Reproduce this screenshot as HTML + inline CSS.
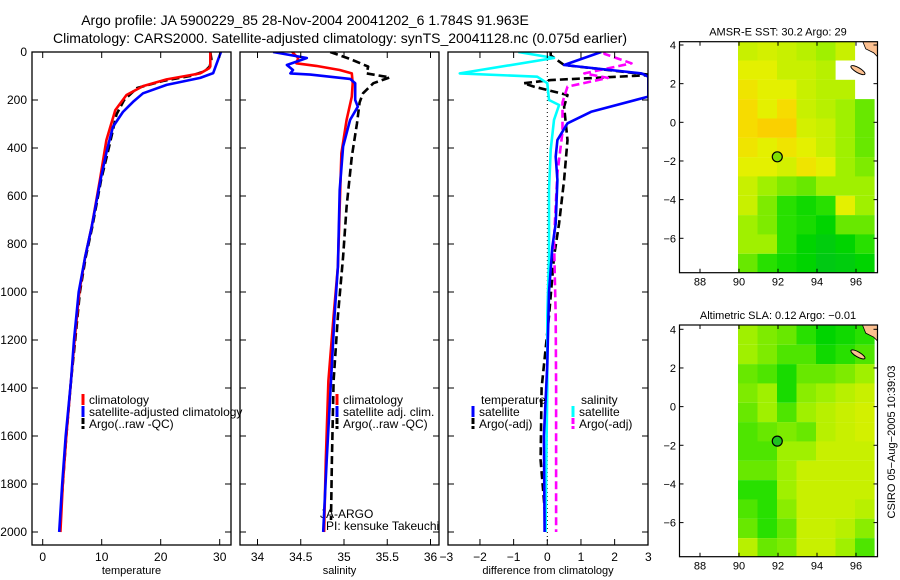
<!DOCTYPE html>
<html><head><meta charset="utf-8"><style>
body{margin:0;background:#fff;}
svg{display:block;font-family:"Liberation Sans",sans-serif;}
</style></head><body>
<svg id="c" width="900" height="580" xmlns="http://www.w3.org/2000/svg">
<text x="305" y="25" font-size="14" text-anchor="middle">Argo profile: JA 5900229_85 28-Nov-2004 20041202_6 1.784S 91.963E</text>
<text x="340" y="43" font-size="14" text-anchor="middle">Climatology: CARS2000. Satellite-adjusted climatology: synTS_20041128.nc (0.075d earlier)</text>
<g id="layer"></g>
</svg>
<script>
// ---------- data ----------
const depthTick=[0,200,400,600,800,1000,1200,1400,1600,1800,2000];
const tempTicks=[0,10,20,30];
const salTicks=[34,34.5,35,35.5,36];
const diffTicks=[-3,-2,-1,0,1,2,3];
// temperature
const tClimDepth=[0,60,68,89,114,142,179,242,367,533,728,853,1000,1200,1370,1600,1800,2000];
const tClimVal=[28.4,28.4,28.2,26.7,21,17,14.2,12.3,10.8,9.7,8.3,7.2,6.2,5.4,4.8,4.0,3.4,3.0];
const tSatDepth=[0,88,108,137,172,208,250,312,408,533,728,853,1000,1200,1370,1600,1800,2000];
const tSatVal=[30.2,28.9,26.7,21,17,15.3,13.6,11.9,10.9,9.8,8.3,7.2,6.1,5.3,4.8,3.9,3.3,2.8];
const tArgoDepth=[0,30,60,80,100,120,150,200,260,400,533,728,853,1000,1200,1370,1600,1800,1950];
const tArgoVal=[28.4,28.6,28.3,27.5,25,20.5,16,13.8,12.5,11.2,9.9,8.4,7.3,6.3,5.5,4.8,4.0,3.4,3.0];
// salinity
const sClimDepth=[0,25,47,58,75,89,130,186,283,422,644,894,1100,1370,1700,2000];
const sClimVal=[34.40,34.47,34.45,34.68,34.95,35.09,35.10,35.09,35.03,34.97,34.95,34.93,34.88,34.82,34.79,34.77];
const sSatDepth=[0,25,54,75,89,94,112,130,200,228,283,394,575,894,1100,1370,1700,2000];
const sSatVal=[34.18,34.57,34.34,34.41,34.38,34.61,35.07,35.13,35.13,35.16,35.07,34.99,34.95,34.93,34.89,34.85,34.80,34.76];
const sArgoDepth=[0,29,61,89,106,130,172,210,297,436,644,853,1100,1370,1700,1950];
const sArgoVal=[34.84,35.07,35.28,35.26,35.53,35.34,35.22,35.18,35.15,35.09,35.03,34.99,34.93,34.88,34.86,34.85];
// differences
const dTSatDepth=[0,54,89,103,186,249,297,367,436,533,714,811,1000,1300,1600,2000];
const dTSatVal=[1.6,0.5,2.8,3.0,3.0,1.3,0.6,0.3,0.25,0.3,0.25,0.15,0.05,0.0,-0.1,-0.08];
const dTArgoDepth=[0,14,54,96,117,130,144,179,228,367,533,714,853,1100,1400,1700,1950];
const dTArgoVal=[0.1,0.1,0.5,3.1,0.1,-0.7,-0.4,0.6,0.5,0.6,0.5,0.35,0.2,0.05,-0.17,-0.2,-0.05];
const dSSatDepth=[0,25,89,103,130,200,221,283,408,575,853,1100,1400,1700,2000];
const dSSatVal=[-0.86,0.2,-2.6,-0.3,0.0,0.05,0.35,0.2,0.1,0.05,0.05,0.0,0.0,-0.03,-0.05];
const dSArgoDepth=[0,8,47,89,108,144,210,333,505,783,1100,1400,1700,2000];
const dSArgoVal=[1.7,1.7,2.5,1.1,1.8,0.6,0.45,0.45,0.3,0.2,0.25,0.26,0.26,0.26];
// maps (levels 0=dark green .. 4.5=orange, -1 = no data)
const latTicks=[4,2,0,-2,-4,-6];
const lonTicks=[88,90,92,94,96];
const sstGrid=[
[3,3.2,3,2.8,2.5,3,-1],
[3.5,3.5,3,3,2.8,-1,-1],
[3.8,3.5,3.5,3,2.8,2.8,-1],
[4,3.5,4,3,2.8,2.5,2],
[4,4.2,4.2,3.2,3,2.5,2],
[3.8,3.5,3.8,3.5,3,2.5,2],
[3.5,3.5,3.2,3.8,3.5,2.5,2.2],
[3,2.5,2.2,2,2.5,2.5,2.5],
[3,2.2,1.5,1.2,1.5,3.5,2.5],
[2.5,2.2,1.5,1.3,1,2,2],
[2.5,2.5,1.5,1,0.8,1,1.5],
[2,1.5,1.2,1,0.7,0.8,1]];
const slaGrid=[
[2.5,2.2,2,1.5,1,1.2,1.5],
[2.5,2.2,1.8,1.8,1.2,1.5,1.8],
[2,1.8,1.3,2,2,2.2,2.5],
[2.2,2.5,1.3,2.3,2.5,2.8,3],
[2,2.5,1.8,2.5,2.8,3,3.2],
[1.8,2,2.2,2,2.8,3,3.2],
[1.8,1.8,2.5,2.5,3,3,3],
[2,2,2.5,3,3,3,3],
[1.5,1.5,2.5,3,3,3,3],
[1.8,1.5,2.3,3,3,3,2.8],
[2,1.5,2,3,3,2.8,2.3],
[2.8,2,2.2,3,3,2.5,1.8]];
const argoLon=91.963, argoLat=-1.784;

// ---------- helpers ----------
const NS="http://www.w3.org/2000/svg";
const L=document.getElementById('layer');
function mk(tag,attrs,parent){const e=document.createElementNS(NS,tag);for(const k in attrs)e.setAttribute(k,attrs[k]);(parent||L).appendChild(e);return e;}
function txt(x,y,s,size,anchor,parent){const t=mk('text',{x:x,y:y,'font-size':size,'text-anchor':anchor||'start'},parent);t.textContent=s;return t;}
const yD=d=>52+d*0.24;
const panels=[
 {x0:32,x1:231,sx:v=>42.7+v*5.9,ticks:tempTicks,label:'temperature',name:'temperature-panel'},
 {x0:240,x1:439,sx:v=>257.5+(v-34)*86.5,ticks:salTicks,label:'salinity',name:'salinity-panel'},
 {x0:448,x1:648,sx:v=>547.3+v*33.67,ticks:diffTicks,label:'difference from climatology',name:'difference-panel'}];
panels.forEach((p,i)=>{
 const g=mk('g',{});
 
 
 const cp=mk('clipPath',{id:'cp'+i},g);mk('rect',{x:p.x0,y:52,width:p.x1-p.x0,height:493},cp);
 p.g=g;p.clip=mk('g',{'clip-path':'url(#cp'+i+')'},g);
 const r=mk('rect',{x:p.x0,y:52,width:p.x1-p.x0,height:493,fill:'none',stroke:'#000','stroke-width':1.3},g);
 
 
 depthTick.forEach(d=>{const y=yD(d);
  mk('line',{x1:p.x0,x2:p.x0+6,y1:y,y2:y,stroke:'#000'},g);
  mk('line',{x1:p.x1-6,x2:p.x1,y1:y,y2:y,stroke:'#000'},g);
  if(i==0){const t=txt(27,y+4,String(d),12,'end',g);
   
   }
 });
 p.ticks.forEach(v=>{const x=p.sx(v);
  if(x>p.x0+1&&x<p.x1-1){mk('line',{x1:x,x2:x,y1:545,y2:539,stroke:'#000'},g);mk('line',{x1:x,x2:x,y1:52,y2:58,stroke:'#000'},g);}
  const t=txt(x,561,String(v).replace('-','\u2212'),12,'middle',g);
  
  
 });
 const xl=txt((p.x0+p.x1)/2,574,p.label,11,'middle',g);
 
 
});
// labels drawn under the lines
let t1=txt(320,518,'JA-ARGO',12,'start',panels[1].clip);


let t2=txt(326,530,'PI: kensuke Takeuchi',12,'start',panels[1].clip);


function series(p,depths,vals,color,dash,name){
 const pts=depths.map((d,k)=>p.sx(vals[k]).toFixed(1)+','+yD(d).toFixed(1)).join(' ');
 const a={points:pts,fill:'none',stroke:color,'stroke-width':2.6,'stroke-linejoin':'round'};
 if(dash)a['stroke-dasharray']=dash;
 const e=mk('polyline',a,p.clip);
 
 
}
const zl=mk('line',{x1:panels[2].sx(0),x2:panels[2].sx(0),y1:52,y2:545,stroke:'#000','stroke-dasharray':'1,3'},panels[2].clip);


series(panels[0],tArgoDepth,tArgoVal,'#000','8,4','temp-argo-line');
series(panels[0],tClimDepth,tClimVal,'#f00',null,'temp-climatology-line');
series(panels[0],tSatDepth,tSatVal,'#00f',null,'temp-satellite-line');
series(panels[1],sArgoDepth,sArgoVal,'#000','8,4','sal-argo-line');
series(panels[1],sClimDepth,sClimVal,'#f00',null,'sal-climatology-line');
series(panels[1],sSatDepth,sSatVal,'#00f',null,'sal-satellite-line');
series(panels[2],dTArgoDepth,dTArgoVal,'#000','8,4','diff-temp-argo-line');
series(panels[2],dSArgoDepth,dSArgoVal,'#f0f','8,4','diff-sal-argo-line');
series(panels[2],dSSatDepth,dSSatVal,'#0ff',null,'diff-sal-satellite-line');
series(panels[2],dTSatDepth,dTSatVal,'#00f',null,'diff-temp-satellite-line');
function leg(x,y,color,label,name,dash){
 const g=mk('g',{});
 
 
 if(color)mk('line',{x1:x,x2:x,y1:y-10,y2:y+1,stroke:color,'stroke-width':3,'stroke-dasharray':dash?'6,2':'none'},g);
 txt(x+6,y,label,12,'start',g);
}
leg(83,404,'#f00','climatology','legend-entry-climatology');
leg(83,416,'#00f','satellite-adjusted climatology','legend-entry-satellite');
leg(83,428,'#000','Argo(..raw -QC)','legend-entry-argo',1);
leg(337,404,'#f00','climatology','legend-entry-sal-climatology');
leg(337,416,'#00f','satellite adj. clim.','legend-entry-sal-satellite');
leg(337,428,'#000','Argo(..raw -QC)','legend-entry-sal-argo',1);
leg(475,404,null,'temperature','legend-header-temperature');
leg(473,416,'#00f','satellite','legend-entry-dtemp-satellite');
leg(473,428,'#000','Argo(-adj)','legend-entry-dtemp-argo',1);
leg(575,404,null,'salinity','legend-header-salinity');
leg(573,416,'#0ff','satellite','legend-entry-dsal-satellite');
leg(573,428,'#f0f','Argo(-adj)','legend-entry-dsal-argo',1);

// ---------- maps ----------
const cstops=[[0,[0,176,64]],[1,[0,212,0]],[1.5,[40,224,0]],[2,[104,232,0]],[2.5,[160,240,0]],[3,[200,240,0]],[3.5,[228,240,0]],[4,[246,220,0]],[4.5,[255,190,0]]];
function col(v){for(let i=1;i<cstops.length;i++){if(v<=cstops[i][0]){const a=cstops[i-1],b=cstops[i],f=(v-a[0])/(b[0]-a[0]);return 'rgb('+a[1].map((c,k)=>Math.round(c+(b[1][k]-c)*f)).join(',')+')';}}return 'rgb(255,190,0)';}
function drawMap(top,bottom,lat4y,grid,title,name,ptColor,idx){
 const x0=679.5,x1=877.5;
 const lx=lon=>700+(lon-88)*19.5;
 const ly=lat=>lat4y+(4-lat)*19.33;
 const g=mk('g',{});
 
 
 const cp=mk('clipPath',{id:'mc'+idx},g);mk('rect',{x:x0,y:top,width:x1-x0,height:bottom-top},cp);
 const cg=mk('g',{'clip-path':'url(#mc'+idx+')'},g);
 grid.forEach((row,r)=>row.forEach((v,c)=>{
  if(v<0)return;
  const lat=4.2-r, lon=89.95+c;
  const cell=mk('rect',{x:lx(lon).toFixed(1),y:ly(lat).toFixed(1),width:19.6,height:19.4,fill:col(v)},cg);
  
  
 }));
 const land=mk('polygon',{points:[[96.3,4.3],[96.5,3.8],[96.9,3.6],[97.2,3.3],[97.2,4.3]].map(p=>lx(p[0])+','+ly(p[1])).join(' '),fill:'#fcc090',stroke:'#000','stroke-width':0.8},cg);
 
 
 const isl=mk('ellipse',{cx:lx(96.1),cy:ly(2.7),rx:8,ry:2.5,transform:'rotate(30 '+lx(96.1)+' '+ly(2.7)+')',fill:'#fcc090',stroke:'#000','stroke-width':1},cg);
 
 
 const fr=mk('rect',{x:x0,y:top,width:x1-x0,height:bottom-top,fill:'none',stroke:'#000','stroke-width':1.2},g);
 
 
 latTicks.forEach(l=>{const y=ly(l);mk('line',{x1:x0,x2:x0+4,y1:y,y2:y,stroke:'#000'},g);mk('line',{x1:x1-4,x2:x1,y1:y,y2:y,stroke:'#000'},g);
  const t=txt(676,y+4,String(l).replace('-','\u2212'),11,'end',g);
  
  });
 lonTicks.forEach(l=>{const x=lx(l);mk('line',{x1:x,x2:x,y1:bottom,y2:bottom-4,stroke:'#000'},g);mk('line',{x1:x,x2:x,y1:top,y2:top+4,stroke:'#000'},g);
  const t=txt(x,bottom+13,String(l),11,'middle',g);
  
  });
 const tt=txt(778,top-6,title,11,'middle',g);
 
 
 const pt=mk('circle',{cx:lx(argoLon),cy:ly(argoLat),r:5,fill:ptColor,stroke:'#000','stroke-width':1.2},g);
 
 
}
drawMap(41.7,272.7,45,sstGrid,'AMSR-E SST: 30.2 Argo: 29','sst-map','#80e000',0);
drawMap(325,556.7,329.3,slaGrid,'Altimetric SLA: 0.12 Argo: \u22120.01','sla-map','#20c020',1);
const cs=txt(0,0,'CSIRO 05\u2212Aug\u22122005 10:39:03',11,'middle');
cs.setAttribute('transform','translate(895,442) rotate(-90)');


</script>
</body></html>
